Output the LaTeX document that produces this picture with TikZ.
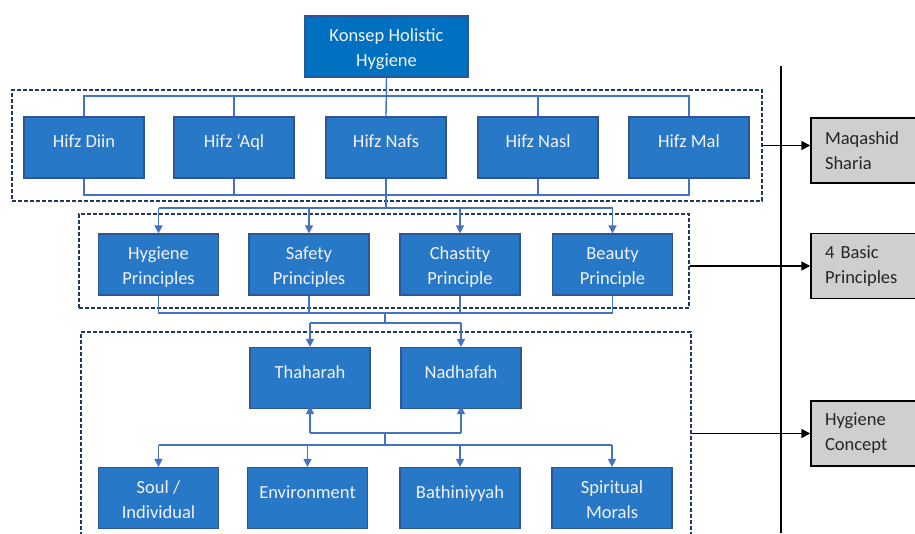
\documentclass[tikz,border=0pt]{standalone}
\usepackage{fontspec}
\setmainfont{Carlito}
\usetikzlibrary{arrows.meta}
\definecolor{konsep}{HTML}{0070C0}
\definecolor{boxblue}{HTML}{2878C8}
\definecolor{boxedge}{HTML}{2F5597}
\definecolor{conn}{HTML}{4472C4}
\definecolor{navy}{HTML}{203864}
\definecolor{greyfill}{HTML}{D0CECE}
\definecolor{greytext}{HTML}{262626}
\tikzset{
  bbox/.style={draw=boxedge, line width=1.2pt, fill=boxblue, text=white!95!black,
    minimum width=120, minimum height=61, inner sep=0pt, align=center,
    font=\fontsize{18.5}{25}\selectfont},
  onel/.style={bbox, text height=30.5pt, text depth=30.5pt},
  twol/.style={bbox, text height=50.5pt, text depth=10.5pt},
  kbox/.style={twol, fill=konsep, minimum width=163},
  gbox/.style={draw=black, line width=1.5pt, fill=greyfill, text=greytext,
    minimum width=120, minimum height=65, inner xsep=14pt, inner ysep=0pt,
    text width=92, align=left, font=\fontsize{18.5}{25}\selectfont},
  dbox/.style={draw=navy, line width=1.4pt, dash pattern=on 4pt off 2pt, inner sep=0pt},
  cline/.style={draw=conn, line width=1.4pt},
  carr/.style={cline, -{Triangle[length=8pt,width=8pt]}},
  barr/.style={draw=black, line width=1.6pt, -{Triangle[length=9pt,width=9pt]}},
}
\begin{document}
\begin{tikzpicture}[x=1pt,y=-1pt]
\useasboundingbox (0,0) rectangle (915,533);
\clip (0,0) rectangle (915,533);
\fill[white] (0,0) rectangle (915,533);

% dashed group frames
\node[dbox, minimum width=750, minimum height=111] (d1) at (387,145.5) {};
\node[dbox, minimum width=610, minimum height=94] (d2) at (384,261) {};
\node[dbox, minimum width=610, minimum height=230] (d3) at (386,447) {};

% top
\node[kbox] (kon) at (386.5,46.5) {Konsep Holistic\\Hygiene};

% maqashid row
\node[onel] (diin) at (84,147.5) {Hifz Diin};
\node[onel] (aql)  at (234,147.5) {Hifz ‘Aql};
\node[onel] (nafs) at (386,147.5) {Hifz Nafs};
\node[onel] (nasl) at (538,147.5) {Hifz Nasl};
\node[onel] (mal)  at (689,147.5) {Hifz Mal};

% principles row
\node[twol] (hyg) at (158.5,264.5) {Hygiene\\Principles};
\node[twol] (saf) at (309,264.5) {Safety\\Principles};
\node[twol] (cha) at (460,264.5) {Chastity\\Principle};
\node[twol] (bea) at (612.5,264.5) {Beauty\\Principle};

% concept
\node[onel] (tha) at (310,378) {Thaharah};
\node[onel] (nad) at (461,378) {Nadhafah};

% bottom row
\node[twol] (soul) at (158.5,498) {Soul /\\Individual};
\node[onel] (env)  at (307.5,498) {Environment};
\node[onel] (bat)  at (460,498) {Bathiniyyah};
\node[twol] (spi)  at (612,498) {Spiritual\\Morals};

% grey labels
\node[gbox] (maq) at (871,150.5) {Maqashid\\Sharia};
\node[gbox] (bas) at (871,266) {4 Basic\\Principles};
\node[gbox] (hc)  at (871,433.5) {Hygiene\\Concept};

% bus coordinates
\coordinate (b1) at (0,96);
\coordinate (b2) at (0,195);
\coordinate (b3) at (0,208);
\coordinate (b4) at (0,313);
\coordinate (b5) at (0,323);
\coordinate (b6) at (0,433);
\coordinate (b7) at (0,445);
\coordinate (j1) at (385,0);

% connectors: Konsep to maqashid
\draw[cline] (kon.south) -- (nafs.north);
\draw[cline] (diin.north) -- (diin.north |- b1) -- (mal.north |- b1) -- (mal.north);
\draw[cline] (aql.north) -- (aql.north |- b1);
\draw[cline] (nasl.north) -- (nasl.north |- b1);
\draw[cline] (diin.south) -- (diin.south |- b2) -- (mal.south |- b2) -- (mal.south);
\draw[cline] (aql.south) -- (aql.south |- b2);
\draw[cline] (nasl.south) -- (nasl.south |- b2);
\draw[cline] (nafs.south) -- (nafs.south |- b3);

% to principles
\draw[cline] (hyg.north |- b3) -- (bea.north |- b3);
\draw[carr] (hyg.north |- b3) -- (hyg.north);
\draw[carr] (saf.north |- b3) -- (saf.north);
\draw[carr] (cha.north |- b3) -- (cha.north);
\draw[carr] (bea.north |- b3) -- (bea.north);

% principles to concept
\draw[cline] (hyg.south) -- (hyg.south |- b4) -- (bea.south |- b4) -- (bea.south);
\draw[cline] (saf.south) -- (saf.south |- b4);
\draw[cline] (cha.south) -- (cha.south |- b4);
\draw[cline] (j1 |- b4) -- (j1 |- b5);
\draw[cline] (tha.north |- b5) -- (nad.north |- b5);
\draw[carr] (tha.north |- b5) -- (tha.north);
\draw[carr] (nad.north |- b5) -- (nad.north);

% concept and bottom row
\draw[cline] (tha.south |- b6) -- (nad.south |- b6);
\draw[carr] (tha.south |- b6) -- ([yshift=3pt]tha.south);
\draw[carr] (nad.south |- b6) -- ([yshift=3pt]nad.south);
\draw[cline] (j1 |- b6) -- (j1 |- b7);
\draw[cline] (soul.north |- b7) -- (spi.north |- b7);
\draw[carr] (soul.north |- b7) -- (soul.north);
\draw[carr] (env.north |- b7) -- (env.north);
\draw[carr] (bat.north |- b7) -- (bat.north);
\draw[carr] (spi.north |- b7) -- (spi.north);

% divider and labels
\coordinate (vt) at (781,66);
\coordinate (vb) at (781,533);
\draw[black, line width=1.6pt] (vt) -- (vb);
\draw[barr] (d1.east) -- (d1.east -| maq.west);
\draw[barr] (bas.west -| d2.east) -- (bas.west);
\draw[barr] (hc.west -| d3.east) -- (hc.west);
\end{tikzpicture}
\end{document}
